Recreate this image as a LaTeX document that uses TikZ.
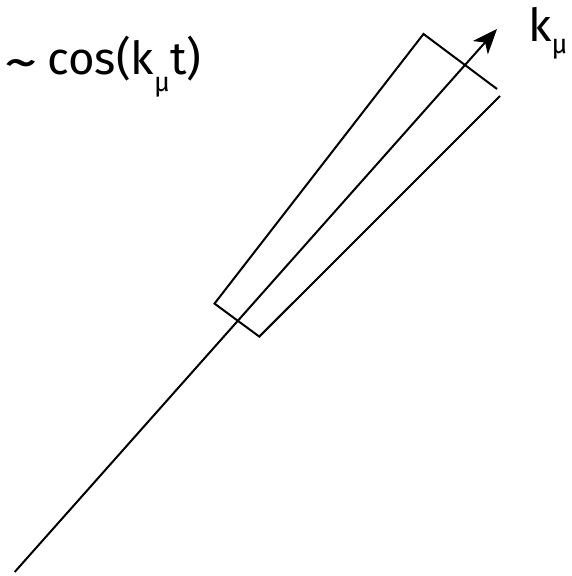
\documentclass[tikz,border=0pt]{standalone}
\usepackage{fontspec}
\setmainfont{Fira Sans}
\usetikzlibrary{arrows.meta}
\begin{document}
\begin{tikzpicture}[x=1pt,y=1pt,
  ln/.style={line width=2pt,line join=miter},
  lbl/.style={anchor=base west,inner sep=0pt,font=\fontsize{45.5}{52}\selectfont}]
\useasboundingbox (0,0) rectangle (572,576);
\coordinate (s) at (14.7,4);
\coordinate (t) at (497,547);
\coordinate (A) at (497,487);
\coordinate (B) at (423.5,542);
\coordinate (C) at (214.5,272.4);
\coordinate (D) at (259.3,239.4);
\coordinate (E) at (500,480);
\draw[ln,-{Stealth[length=25pt,width=20pt,inset=7pt]}] (s) -- (t);
\draw[ln] (A) -- (B) -- (C) -- (D) -- (E);
\node[lbl] (w) at (4,501) {\raisebox{-0.12em}{\scalebox{1.5}[1.2]{\textasciitilde}}\hspace{0.22em}cos(k\raisebox{-0.36em}{\fontsize{27}{30}\selectfont μ}t)};
\node[lbl] (k) at (528,534) {k\raisebox{-0.25em}{\fontsize{27}{30}\selectfont μ}};
\end{tikzpicture}
\end{document}
